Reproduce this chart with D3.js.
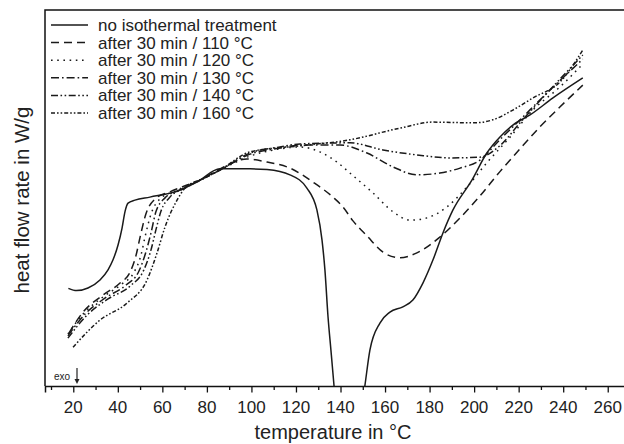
<!DOCTYPE html>
<html>
<head>
<meta charset="utf-8">
<script src="https://cdn.jsdelivr.net/npm/d3@7/dist/d3.min.js"></script>
<style>
  body { margin: 0; background: #fff; }
  svg { display: block; font-family: "Liberation Sans", Arial, sans-serif; }
  .curve { fill: none; stroke: #1a1a1a; stroke-width: 1.5; }
</style>
</head>
<body>
<svg id="chart" width="624" height="444"></svg>
<script>
// temperature in °C, heat flow rate in arbitrary W/g units (no y scale printed)
var noTreatT = [17.8, 21.5, 26.6, 32.0, 35.6, 37.8, 40.1, 41.9, 43.2, 44.6, 47.7, 54.4, 66.6, 75.5, 85.9, 99.4, 107.0, 117.3, 124.9, 129.4, 131.7, 133.0, 134.4, 135.7, 137.1, 139.0, 144.0, 149.0, 151.0, 153.2, 157.7, 162.2, 168.0, 172.5, 177.0, 181.5, 186.0, 190.5, 199.0, 205.7, 211.5, 217.4, 225.1, 235.4, 248.8];
var noTreatV = [2.59, 2.53, 2.60, 2.81, 3.08, 3.34, 3.74, 4.19, 4.62, 4.85, 4.93, 5.01, 5.17, 5.41, 5.76, 5.76, 5.74, 5.60, 5.25, 4.67, 3.87, 3.08, 1.83, 0.95, 0.00, -1.3, -3.0, -0.8, 0.03, 0.95, 1.67, 1.96, 2.10, 2.28, 2.73, 3.34, 4.06, 4.67, 5.46, 6.18, 6.60, 6.92, 7.19, 7.64, 8.17];

var iso110T = [18.1, 24.4, 33.3, 41.0, 45.5, 48.2, 50.0, 52.6, 56.7, 63.4, 70.2, 76.9, 85.9, 98.0, 107.0, 117.3, 127.6, 136.6, 141.1, 145.6, 151.9, 159.1, 166.7, 174.3, 184.6, 193.7, 202.6, 211.5, 220.6, 229.5, 238.5, 248.8];
var iso110V = [1.41, 1.96, 2.41, 2.73, 3.02, 3.47, 3.95, 4.56, 4.96, 5.15, 5.31, 5.46, 5.76, 6.02, 5.94, 5.78, 5.41, 5.01, 4.75, 4.38, 3.98, 3.55, 3.40, 3.53, 3.95, 4.46, 5.04, 5.68, 6.29, 6.87, 7.40, 7.98];

var iso120T = [17.6, 24.4, 33.3, 41.9, 47.3, 50.4, 52.2, 54.9, 58.9, 65.7, 76.9, 85.9, 99.4, 112.8, 121.8, 130.7, 138.4, 144.2, 154.6, 163.6, 171.2, 178.8, 187.8, 196.8, 205.7, 216.1, 226.4, 238.5, 248.8];
var iso120V = [1.38, 1.91, 2.36, 2.71, 3.02, 3.47, 3.95, 4.56, 4.96, 5.17, 5.46, 5.73, 6.10, 6.29, 6.34, 6.21, 5.94, 5.65, 5.12, 4.62, 4.40, 4.46, 4.75, 5.28, 5.92, 6.60, 7.32, 7.93, 8.54];

var iso130T = [17.6, 25.3, 34.2, 43.7, 49.5, 52.6, 54.9, 57.1, 61.2, 67.9, 76.9, 85.9, 99.4, 112.8, 121.8, 139.8, 151.9, 163.6, 174.3, 184.6, 193.7, 202.6, 211.5, 220.6, 232.7, 248.8];
var iso130V = [1.33, 1.91, 2.33, 2.68, 3.05, 3.55, 4.06, 4.62, 4.99, 5.20, 5.46, 5.73, 6.15, 6.31, 6.39, 6.39, 6.18, 5.81, 5.60, 5.65, 5.78, 5.99, 6.53, 7.06, 7.77, 8.67];

var iso140T = [17.6, 26.2, 35.6, 45.5, 51.7, 54.9, 57.1, 59.4, 63.4, 70.2, 76.9, 85.9, 99.4, 112.8, 121.8, 144.2, 159.1, 174.3, 189.2, 202.6, 211.5, 220.6, 232.7, 248.8];
var iso140V = [1.27, 1.88, 2.31, 2.65, 3.08, 3.61, 4.14, 4.64, 5.01, 5.25, 5.46, 5.73, 6.18, 6.34, 6.42, 6.45, 6.26, 6.13, 6.05, 6.07, 6.37, 6.98, 7.77, 8.78];

var iso160T = [19.9, 32.0, 44.1, 53.1, 57.6, 61.2, 66.6, 70.2, 79.1, 85.9, 99.4, 121.8, 144.2, 166.7, 181.5, 199.5, 208.4, 217.4, 226.4, 238.5, 248.8];
var iso160V = [1.03, 1.75, 2.20, 2.81, 3.53, 4.22, 4.93, 5.25, 5.52, 5.73, 6.21, 6.37, 6.53, 6.84, 7.00, 6.98, 7.06, 7.32, 7.64, 8.06, 8.91];

var seriesNames = ["no isothermal treatment", "after 30 min / 110 °C", "after 30 min / 120 °C",
                   "after 30 min / 130 °C", "after 30 min / 140 °C", "after 30 min / 160 °C"];
var xTicks = [20, 40, 60, 80, 100, 120, 140, 160, 180, 200, 220, 240, 260];
var xMinorTicks = [10, 30, 50, 70, 90, 110, 130, 150, 170, 190, 210, 230, 250];

var dashes = ["none", "8,5", "1.6,4.6", "8,3,1.6,3", "7,2.5,1.6,2.5,1.6,2.5", "4,2,1.6,2,1.6,2"];

var svg = d3.select("#chart"),
    LEFT = 45, TOP = 10, BOTTOM = 386, RIGHT = 630;

var xScale = d3.scaleLinear().domain([7.3, 270]).range([LEFT, RIGHT]),
    yScale = d3.scaleLinear().domain([0, 10]).range([BOTTOM, 9]);

var zip = function(ts, vs) {
  return ts.map(function(t, i) { return { t: t, v: vs[i] }; });
};
var allSeries = [
  zip(noTreatT, noTreatV), zip(iso110T, iso110V), zip(iso120T, iso120V),
  zip(iso130T, iso130V), zip(iso140T, iso140V), zip(iso160T, iso160V)
];

svg.append("clipPath").attr("id", "plotclip")
  .append("rect")
  .attr("x", LEFT).attr("y", TOP)
  .attr("width", RIGHT - LEFT).attr("height", BOTTOM - TOP);

var lineGen = d3.line()
  .x(function(d) { return xScale(d.t); })
  .y(function(d) { return yScale(d.v); })
  .curve(d3.curveMonotoneX);

// frame
svg.append("path")
  .attr("d", "M" + RIGHT + "," + TOP + "H" + LEFT + "V" + BOTTOM)
  .attr("fill", "none").attr("stroke", "#111").attr("stroke-width", 1.5);

var xAxis = d3.axisBottom(xScale).tickValues(xTicks).tickSize(6.5).tickFormat("");
svg.append("g")
  .attr("transform", "translate(0," + BOTTOM + ")")
  .call(xAxis)
  .call(function(g) {
    g.select(".domain").attr("stroke", "#111").attr("stroke-width", 1.5);
    g.selectAll(".tick line").attr("stroke", "#111").attr("stroke-width", 1.3);
  });
svg.append("g")
  .attr("transform", "translate(0," + BOTTOM + ")")
  .call(d3.axisBottom(xScale).tickValues(xMinorTicks).tickSize(4).tickFormat(""))
  .call(function(g) {
    g.select(".domain").remove();
    g.selectAll(".tick line").attr("stroke", "#111").attr("stroke-width", 1.3);
  });

svg.append("g").selectAll("text")
  .data(xTicks)
  .enter().append("text")
  .attr("x", function(d) { return xScale(d); })
  .attr("y", 413)
  .attr("text-anchor", "middle")
  .attr("font-size", 17)
  .attr("fill", "#222")
  .text(function(d) { return d; });

svg.append("text")
  .attr("x", 333).attr("y", 439)
  .attr("text-anchor", "middle")
  .attr("font-size", 20)
  .attr("fill", "#222")
  .text("temperature in °C");

svg.append("text")
  .attr("transform", "translate(29,200) rotate(-90)")
  .attr("text-anchor", "middle")
  .attr("font-size", 20.5)
  .attr("fill", "#222")
  .text("heat flow rate in W/g");

// curves
svg.append("g").attr("clip-path", "url(#plotclip)")
  .selectAll("path")
  .data(allSeries)
  .enter().append("path")
  .attr("class", "curve")
  .attr("stroke-dasharray", function(d, i) { return dashes[i]; })
  .attr("d", lineGen);

// legend
var legend = svg.append("g").selectAll("g")
  .data(seriesNames)
  .enter().append("g")
  .attr("transform", function(d, i) { return "translate(0," + (25 + i * 17.6) + ")"; });
legend.append("line")
  .attr("x1", 51).attr("x2", 88)
  .attr("stroke", "#1a1a1a").attr("stroke-width", 1.5)
  .attr("stroke-dasharray", function(d, i) { return dashes[i]; });
legend.append("text")
  .attr("x", 98).attr("y", 6)
  .attr("font-size", 17)
  .attr("fill", "#222")
  .text(function(d) { return d; });

// exo marker
svg.append("text")
  .attr("x", 54).attr("y", 380)
  .attr("font-size", 10)
  .attr("fill", "#222")
  .text("exo");
svg.append("line")
  .attr("x1", 77).attr("x2", 77).attr("y1", 368).attr("y2", 380)
  .attr("stroke", "#222").attr("stroke-width", 1.2);
svg.append("path")
  .attr("d", "M74.5,379 L79.5,379 L77,384 Z")
  .attr("fill", "#222");
</script>
</body>
</html>
